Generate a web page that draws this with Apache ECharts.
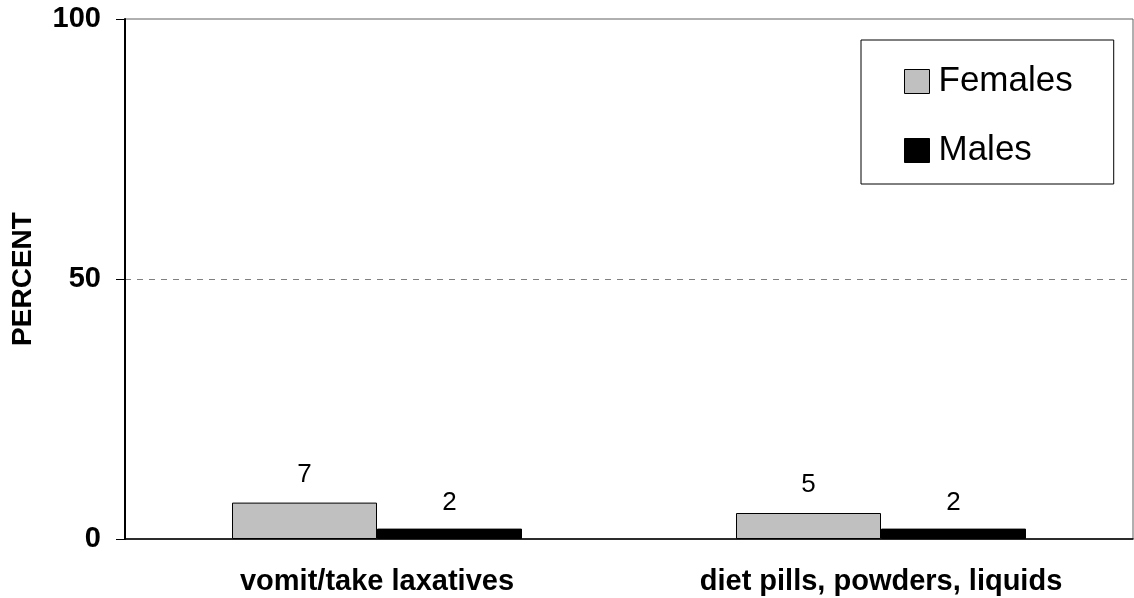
<!DOCTYPE html>
<html>
<head>
<meta charset="utf-8">
<script src="https://cdn.jsdelivr.net/npm/echarts@6/dist/echarts.min.js"></script>
<style>html,body{margin:0;padding:0;background:#fff}#c{width:1134px;height:598px}</style>
</head>
<body>
<div id="c"></div>
<script>
var categories = ['vomit/take laxatives', 'diet pills, powders, liquids'];
var females = [7, 5];
var males = [2, 2];
var seriesNames = ['Females', 'Males'];

var chart = echarts.init(document.getElementById('c'), null, {renderer: 'canvas'});
chart.setOption({
  animation: false,
  backgroundColor: '#ffffff',
  textStyle: {fontFamily: 'Liberation Sans, Arial, sans-serif'},
  grid: {left: 125, top: 19, right: 1, bottom: 59, show: true, borderColor: '#606060', borderWidth: 1, backgroundColor: 'transparent'},
  legend: {
    data: seriesNames,
    orient: 'vertical',
    left: 861, top: 40,
    padding: [24, 41, 16, 43],
    itemGap: 34,
    itemWidth: 25, itemHeight: 24,
    borderColor: '#000', borderWidth: 1,
    backgroundColor: '#fff',
    icon: 'rect',
    itemStyle: {borderColor: '#000', borderWidth: 1},
    textStyle: {fontSize: 35, lineHeight: 35, color: '#000', fontFamily: 'Liberation Sans, Arial, sans-serif', padding: [0,0,0,4]}
  },
  xAxis: {
    type: 'category',
    data: categories,
    axisLine: {lineStyle: {color: '#000', width: 1.5}},
    axisTick: {show: false},
    axisLabel: {fontSize: 29, fontWeight: 'bold', color: '#000', margin: 28}
  },
  yAxis: {
    type: 'value',
    min: 0, max: 100, interval: 50,
    name: 'PERCENT',
    nameLocation: 'middle',
    nameGap: 88,
    nameTextStyle: {fontSize: 28, fontWeight: 'bold', color: '#000'},
    axisLine: {show: true, lineStyle: {color: '#000', width: 2}},
    axisTick: {show: true, length: 9, lineStyle: {color: '#000'}},
    axisLabel: {fontSize: 29, fontWeight: 'bold', color: '#000', margin: 24},
    splitLine: {show: true, lineStyle: {type: [6, 6], color: ['transparent', '#808080', 'transparent'], width: 1}}
  },
  series: [
    {
      name: seriesNames[0], type: 'bar', data: females,
      barWidth: 145, barGap: '0%',
      itemStyle: {color: '#C0C0C0', borderColor: '#000', borderWidth: 1},
      label: {show: true, position: 'top', distance: 15, fontSize: 26, color: '#000'}
    },
    {
      name: seriesNames[1], type: 'bar', data: males,
      barWidth: 145, barGap: '0%',
      itemStyle: {color: '#000', borderColor: '#000', borderWidth: 1},
      label: {show: true, position: 'top', distance: 13, fontSize: 26, color: '#000'}
    }
  ]
});
</script>
</body>
</html>
